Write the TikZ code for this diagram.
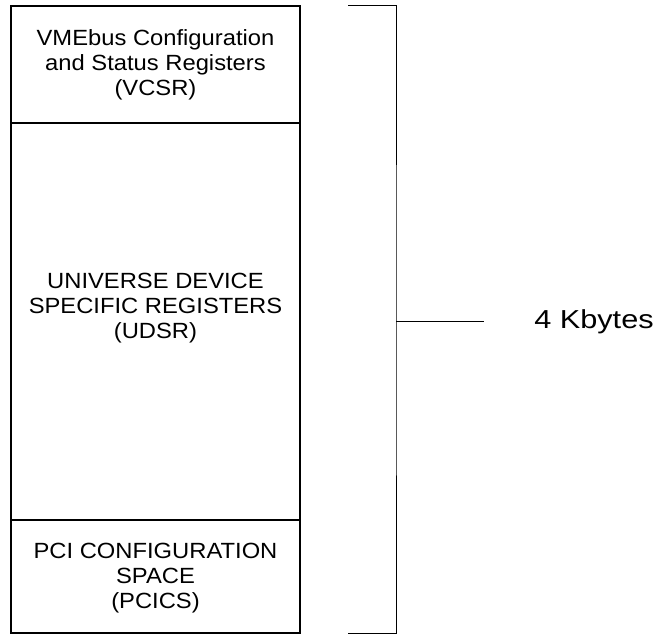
\documentclass[tikz,border=0pt]{standalone}
\usepackage{fontspec}
\setmainfont{Liberation Sans}[FakeStretch=1.08]
\newfontfamily\kbfont{Liberation Sans}[FakeStretch=1.18]
\usetikzlibrary{positioning}
\tikzset{
  region/.style={draw,line width=2pt,minimum width=289pt,inner sep=0pt},
  regtext/.style={align=center,font=\fontsize{22}{25}\selectfont},
  brace/.style={line width=1pt}
}

\begin{document}
\begin{tikzpicture}[x=1pt,y=-1pt]
\useasboundingbox (0,0) rectangle (659,634);
\node[region,minimum height=117pt] (vcsr) at (155.5,64.5) {};
\node[region,minimum height=397pt] (udsr) at (155.5,321.5) {};
\node[region,minimum height=113pt] (pcics) at (155.5,576.5) {};
\node[regtext] (vcsrtext) at (155.5,65) {VMEbus Configuration\\and Status Registers\\(VCSR)};
\node[regtext] (udsrtext) at (155.5,308) {UNIVERSE DEVICE\\SPECIFIC REGISTERS\\(UDSR)};
\node[regtext] (pcicstext) at (155.5,578) {PCI CONFIGURATION\\SPACE\\(PCICS)};
% bracket
\coordinate (top) at (348,6);
\coordinate (bot) at (348,633);
\coordinate (mid) at (396,321);
\node[font=\kbfont\fontsize{26}{30}\selectfont] (size) at (594,322) {4 Kbytes};
\draw[brace] (top) -| (mid) |- (bot);
\draw[brace] (mid) -- (484,321);
\end{tikzpicture}
\end{document}
